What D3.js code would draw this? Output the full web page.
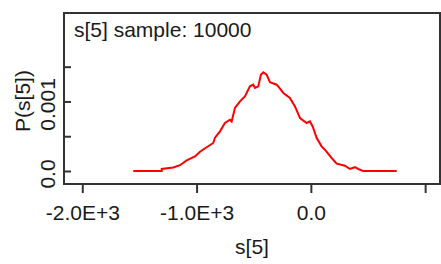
<!DOCTYPE html>
<html>
<head>
<meta charset="utf-8">
<script src="https://cdn.jsdelivr.net/npm/d3@7"></script>
<style>
  html, body { margin: 0; padding: 0; background: #fff; }
  svg { display: block; }
  text { font-family: "Liberation Sans", Arial, sans-serif; fill: #1a1a1a; }
</style>
</head>
<body>
<svg id="chart" width="441" height="264"></svg>
<script>
// ---- data ----
const title = "s[5] sample: 10000";
const xLabel = "s[5]";
const yLabel = "P(s[5])";
const xTicks = [-2000, -1000, 0, 1000];
const xTickLabels = ["-2.0E+3", "-1.0E+3", "0.0", ""];
const yTicks = [0, 0.0005, 0.001, 0.0015];
const yTickLabels = ["0.0", "", "0.001", ""];
const sValues = [-1554, -1305, -1305, -1204, -1145, -1087, -1014, -970, -912, -854, -839, -795, -752, -708, -693, -664, -620, -577, -533, -504, -489, -460, -437, -416, -387, -358, -299, -270, -241, -183, -139, -95, -37, -8, 16, 51, 94, 123, 182, 226, 298, 342, 386, 415, 458, 751];
const density = [0, 0, 0.0000288, 0.0000503, 0.0000834, 0.000152, 0.00021, 0.000278, 0.000342, 0.000403, 0.000479, 0.00057, 0.00069, 0.000738, 0.000713, 0.000906, 0.001001, 0.001073, 0.001217, 0.001241, 0.001194, 0.001217, 0.001385, 0.001418, 0.001385, 0.001277, 0.001241, 0.001184, 0.001122, 0.00105, 0.000929, 0.000762, 0.00069, 0.000713, 0.000641, 0.000475, 0.000354, 0.000306, 0.000187, 0.000105, 0.0000762, 0.0000288, 0.0000547, 0.0000288, 0, 0];

// ---- layout ----
const box = { left: 64, right: 440, top: 13, bottom: 184 };
const FONT = "21px";
const svg = d3.select("#chart");

const x = d3.scaleLinear().domain([-2160, 1130]).range([box.left, box.right]);
const y = d3.scaleLinear().domain([-0.000187, 0.002272]).range([box.bottom, box.top]);

// frame
svg.append("rect")
  .attr("x", box.left).attr("y", box.top)
  .attr("width", box.right - box.left).attr("height", box.bottom - box.top)
  .attr("fill", "none").attr("stroke", "#333").attr("stroke-width", 2);

// x axis ticks (outside, below the frame)
const xAxis = d3.axisBottom(x).tickValues(xTicks).tickSize(9)
  .tickFormat((d, i) => xTickLabels[i]);
const gx = svg.append("g").attr("transform", `translate(0,${box.bottom})`).call(xAxis);
gx.select(".domain").remove();
gx.selectAll(".tick line").attr("stroke", "#333").attr("stroke-width", 2);
gx.selectAll(".tick text")
  .attr("y", 36).attr("dy", 0)
  .style("font-size", FONT).style("font-family", '"Liberation Sans", Arial, sans-serif')
  .attr("fill", "#1a1a1a");

// y axis ticks (inside the frame)
const yAxis = d3.axisRight(y).tickValues(yTicks).tickSize(7).tickFormat(() => "");
const gy = svg.append("g").attr("transform", `translate(${box.left},0)`).call(yAxis);
gy.select(".domain").remove();
gy.selectAll(".tick line").attr("stroke", "#333").attr("stroke-width", 2);

// y tick labels (rotated)
svg.append("g").selectAll("text")
  .data(yTicks.map((v, i) => ({ v, label: yTickLabels[i] })).filter(d => d.label))
  .join("text")
  .attr("transform", d => `translate(55,${y(d.v) + 3}) rotate(-90)`)
  .attr("text-anchor", "middle")
  .style("font-size", FONT)
  .text(d => d.label);

// density curve
const pts = sValues.map((s, i) => [s, density[i]]);
svg.append("path")
  .datum(pts)
  .attr("fill", "none")
  .attr("stroke", "#ff0000")
  .attr("stroke-width", 2)
  .attr("stroke-linejoin", "miter")
  .attr("d", d3.line().x(d => x(d[0])).y(d => y(d[1])));

// title
svg.append("text").attr("x", 74).attr("y", 37)
  .style("font-size", FONT).text(title);

// axis labels
svg.append("text").attr("x", (box.left + box.right) / 2).attr("y", 254)
  .attr("text-anchor", "middle").style("font-size", FONT).text(xLabel);
svg.append("text")
  .attr("transform", `translate(30,101) rotate(-90)`)
  .attr("text-anchor", "middle").style("font-size", FONT).text(yLabel);
</script>
</body>
</html>
